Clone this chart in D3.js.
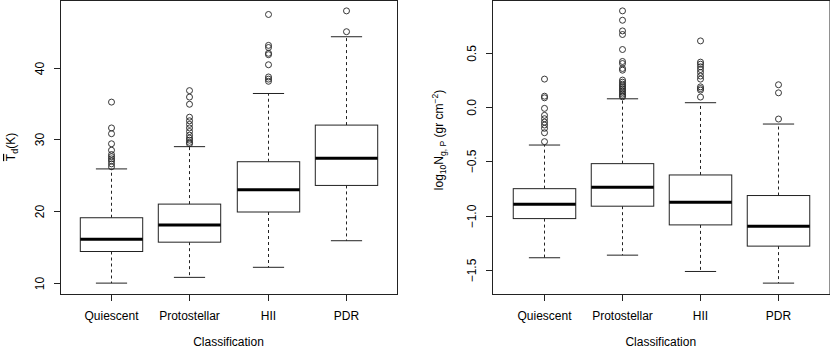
<!DOCTYPE html>
<html>
<head>
<meta charset="utf-8">
<script src="https://cdn.jsdelivr.net/npm/d3@7"></script>
<style>
  body { margin: 0; background: #fff; }
  svg { font-family: "Liberation Sans", Arial, sans-serif; font-size: 12px; }
</style>
</head>
<body>
<svg id="chart" width="830" height="350"></svg>
<script>
// Categories
const classes = ["Quiescent", "Protostellar", "HII", "PDR"];

// Left panel: mean dust temperature (K) -> [lower whisker, Q1, median, Q3, upper whisker]
const tdStats = [
  [10.0, 14.4, 16.1, 19.1, 25.9],
  [10.8, 15.7, 18.1, 21.0, 29.0],
  [12.2, 19.9, 23.0, 26.9, 36.4],
  [15.9, 23.6, 27.4, 32.0, 44.3]
];
const tdOutliers = [
  [35.2, 31.6, 30.8, 29.4, 28.5, 27.9, 27.6, 27.3, 27.0, 26.6, 26.2],
  [36.8, 35.9, 34.9, 33.1, 32.6, 32.1, 31.6, 31.1, 30.6, 30.2, 29.9, 29.6, 29.4],
  [47.4, 43.1, 42.8, 42.0, 41.8, 40.4, 38.7, 38.4, 38.1],
  [47.9, 45.0]
];
const tdTicks = [10, 20, 30, 40];

// Right panel: log10 column density
const nStats = [
  [-1.385, -1.025, -0.893, -0.750, -0.349],
  [-1.361, -0.911, -0.737, -0.520, 0.076],
  [-1.511, -1.083, -0.875, -0.624, 0.040],
  [-1.618, -1.278, -1.095, -0.813, -0.156]
];
const nOutliers = [
  [0.257, 0.100, 0.085, -0.012, -0.076, -0.107, -0.138, -0.165, -0.195, -0.236, -0.318],
  [0.884, 0.798, 0.700, 0.667, 0.529, 0.419, 0.400, 0.355, 0.339, 0.248, 0.229, 0.211,
   0.195, 0.180, 0.165, 0.150, 0.135, 0.119, 0.105, 0.094],
  [0.608, 0.413, 0.394, 0.370, 0.345, 0.318, 0.285, 0.257, 0.186, 0.170, 0.156, 0.092],
  [0.205, 0.131, -0.110]
];
const nTicks = [-1.5, -1.0, -0.5, 0.0, 0.5];

const svg = d3.select("#chart");
const plotTop = 0, plotBottom = 294;

function drawPanel(left, right, stats, outliers, ticks, fmt) {
  const g = svg.append("g");

  // x: boxes at 1..n, R style range 0.5..n+0.5 padded 4%
  const x = d3.scaleLinear().domain([0.34, classes.length + 0.66]).range([left, right]);

  // y: data range padded 4%
  const all = stats.flat().concat(outliers.flat());
  const [lo, hi] = d3.extent(all);
  const pad = (hi - lo) * 0.04;
  const y = d3.scaleLinear().domain([lo - pad, hi + pad]).range([plotBottom, plotTop]);

  const bw = (x(1.4) - x(0.6));
  const cap = bw / 2;

  classes.forEach((c, i) => {
    const cx = Math.round(x(i + 1)) + 0.5;
    const [wl, q1, med, q3, wh] = stats[i];

    // whiskers
    g.append("line").attr("x1", cx).attr("x2", cx).attr("y1", y(q3)).attr("y2", y(wh))
      .attr("stroke", "#222").attr("stroke-dasharray", "3,3");
    g.append("line").attr("x1", cx).attr("x2", cx).attr("y1", y(q1)).attr("y2", y(wl))
      .attr("stroke", "#222").attr("stroke-dasharray", "3,3");
    // caps
    [wl, wh].forEach(v => {
      g.append("line").attr("x1", cx - cap / 2).attr("x2", cx + cap / 2)
        .attr("y1", y(v)).attr("y2", y(v)).attr("stroke", "#222");
    });
    // box
    g.append("rect").attr("x", cx - bw / 2).attr("y", y(q3))
      .attr("width", bw).attr("height", y(q1) - y(q3))
      .attr("fill", "#fff").attr("stroke", "#222");
    // median
    g.append("line").attr("x1", cx - bw / 2).attr("x2", cx + bw / 2)
      .attr("y1", y(med)).attr("y2", y(med)).attr("stroke", "#000").attr("stroke-width", 3);
    // outliers
    g.selectAll(null).data(outliers[i]).enter().append("circle")
      .attr("cx", cx).attr("cy", d => y(d)).attr("r", 3)
      .attr("fill", "none").attr("stroke", "#222").attr("stroke-width", 0.9);
  });

  // frame
  g.append("rect").attr("x", left + 0.5).attr("y", plotTop + 0.5)
    .attr("width", right - left).attr("height", plotBottom - plotTop)
    .attr("fill", "none").attr("stroke", "#222");

  // x axis ticks and labels
  classes.forEach((c, i) => {
    const cx = Math.round(x(i + 1)) + 0.5;
    g.append("line").attr("x1", cx).attr("x2", cx).attr("y1", plotBottom).attr("y2", plotBottom + 7)
      .attr("stroke", "#222");
    g.append("text").attr("x", cx).attr("y", 320).attr("text-anchor", "middle").text(c);
  });
  g.append("text").attr("x", (left + right) / 2).attr("y", 346)
    .attr("text-anchor", "middle").text("Classification");

  // y axis ticks and rotated labels
  ticks.forEach(t => {
    const ty = Math.round(y(t)) + 0.5;
    g.append("line").attr("x1", left - 6).attr("x2", left).attr("y1", ty).attr("y2", ty)
      .attr("stroke", "#222");
    g.append("text").attr("transform", `translate(${left - 20},${ty}) rotate(-90)`)
      .attr("text-anchor", "middle").attr("dy", "0.35em").text(fmt(t));
  });
  return g;
}

drawPanel(60, 397, tdStats, tdOutliers, tdTicks, d3.format("d"));
drawPanel(492, 829.5, nStats, nOutliers, nTicks, d3.format(".1f"));

// left y title: mean T_d (K)
const tl = svg.append("text").attr("transform", "translate(15,147) rotate(-90)")
  .attr("text-anchor", "middle");
tl.append("tspan").style("text-decoration", "overline").text("T");
tl.append("tspan").attr("dy", 3).attr("font-size", 9).text("d");
tl.append("tspan").attr("dy", -3).text("(K)");

// right y title: log10 N_g,P (gr cm^-2)
const tr = svg.append("text").attr("transform", "translate(443,140) rotate(-90)")
  .attr("text-anchor", "middle");
tr.append("tspan").text("log");
tr.append("tspan").attr("dy", 3).attr("font-size", 8.5).text("10");
tr.append("tspan").attr("dy", -3).text("N");
tr.append("tspan").attr("dy", 3).attr("font-size", 8.5).text("g, P");
tr.append("tspan").attr("dy", -3).text(" (gr cm");
tr.append("tspan").attr("dy", -5).attr("font-size", 8.5).text("\u22122");
tr.append("tspan").attr("dy", 5).text(")");
</script>
</body>
</html>
